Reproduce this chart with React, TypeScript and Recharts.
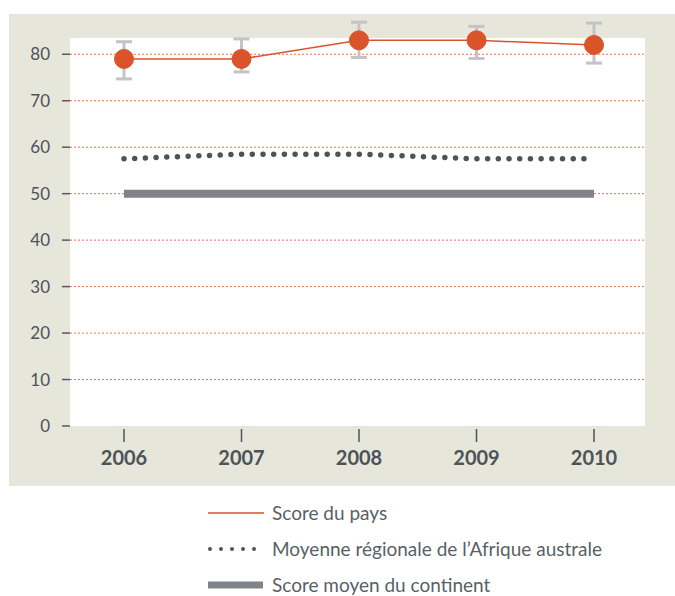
import React from 'react';
import {
  LineChart,
  Line,
  XAxis,
  YAxis,
  CartesianGrid,
  ErrorBar
} from 'recharts';

const years = ['2006', '2007', '2008', '2009', '2010'];
const countryScore = [79, 79, 83, 83, 82];
// [below, above] the point
const countryError = [[4.3, 3.7], [2.8, 4.3], [3.7, 3.9], [3.9, 3.0], [3.9, 4.7]];
const regionalAverage = [57.5, 58.5, 58.5, 57.5, 57.5];
const continentAverage = [50, 50, 50, 50, 50];
const yTicks = [0, 10, 20, 30, 40, 50, 60, 70, 80];
const gridValues = [10, 20, 30, 40, 50, 60, 70, 80];

const legendItems = [
  { label: 'Score du pays', kind: 'line' },
  { label: 'Moyenne régionale de l\u2019Afrique australe', kind: 'dots' },
  { label: 'Score moyen du continent', kind: 'bar' }
];

const chartData = years.map((year, i) => ({
  year,
  country: countryScore[i],
  countryErr: countryError[i],
  regional: regionalAverage[i],
  continent: continentAverage[i]
}));

const TEXT = '#4d5359';
const ORANGE = '#d9532b';

const YearTick = ({ x, y, payload }: any) => (
  <g>
    <line x1={x} x2={x} y1={y + 3} y2={y + 16} stroke={TEXT} strokeWidth={1.5} />
    <text x={x} y={y + 39} textAnchor="middle" fontSize={20} fontWeight={700} fill={TEXT}>
      {payload.value}
    </text>
  </g>
);

function LegendSample({ kind }: { kind: string }) {
  return (
    <svg width={58} height={12} style={{ display: 'block' }}>
      {kind === 'line' && <line x1={0} x2={56} y1={6} y2={6} stroke={ORANGE} strokeWidth={1.5} />}
      {kind === 'dots' && (
        <line x1={2} x2={57} y1={6} y2={6} stroke={TEXT} strokeWidth={4}
          strokeDasharray="0 11" strokeLinecap="round" />
      )}
      {kind === 'bar' && <rect x={0} y={2.5} width={55} height={7} fill="#808488" />}
    </svg>
  );
}

export default function App() {
  return (
    <div style={{ position: 'absolute', left: 0, top: 0, width: 675, height: 596, fontFamily: 'Lato, sans-serif', background: '#fff' }}>
      <div style={{ position: 'absolute', left: 9, top: 14, width: 666, height: 472, background: '#e6e6da' }} />
      <div style={{ position: 'absolute', left: 0, top: 0 }}>
        <LineChart width={675} height={490} data={chartData} margin={{ top: 38, right: 30, left: 10, bottom: 24 }}>
          <CartesianGrid vertical={false} horizontalValues={gridValues} stroke="#e8714c"
            strokeDasharray="2 2" fill="#ffffff" fillOpacity={1} />
          <XAxis dataKey="year" axisLine={false} tickLine={false} tickSize={0} tickMargin={0}
            height={40} padding={{ left: 54, right: 51 }} tick={<YearTick />} interval={0} />
          <YAxis domain={[0, 83.5]} ticks={yTicks} width={60} axisLine={false}
            tickLine={{ stroke: '#555a60', strokeWidth: 1.5 }} tickSize={8} tickMargin={12}
            tick={{ fill: TEXT, fontSize: 17 }} allowDataOverflow />
          <Line dataKey="continent" stroke="#808488" strokeWidth={8} dot={false}
            isAnimationActive={false} strokeLinecap="butt" />
          <Line dataKey="regional" stroke={TEXT} strokeWidth={5.5} strokeDasharray="0 10.7"
            strokeLinecap="round" dot={false} isAnimationActive={false} />
          <Line dataKey="country" stroke={ORANGE} strokeWidth={1.5}
            dot={{ r: 9.5, fill: ORANGE, stroke: ORANGE, strokeWidth: 1, clipDot: false }}
            activeDot={false} isAnimationActive={false}>
            <ErrorBar dataKey="countryErr" width={8} stroke="#c4c4c8" strokeWidth={3} direction="y" />
          </Line>
        </LineChart>
      </div>
      <div style={{ position: 'absolute', left: 208, top: 495, color: '#595f66', fontSize: 19 }}>
        {legendItems.map(item => (
          <div key={item.label} style={{ display: 'flex', alignItems: 'center', height: 36 }}>
            <LegendSample kind={item.kind} />
            <span style={{ marginLeft: 6, lineHeight: '20px' }}>{item.label}</span>
          </div>
        ))}
      </div>
    </div>
  );
}
